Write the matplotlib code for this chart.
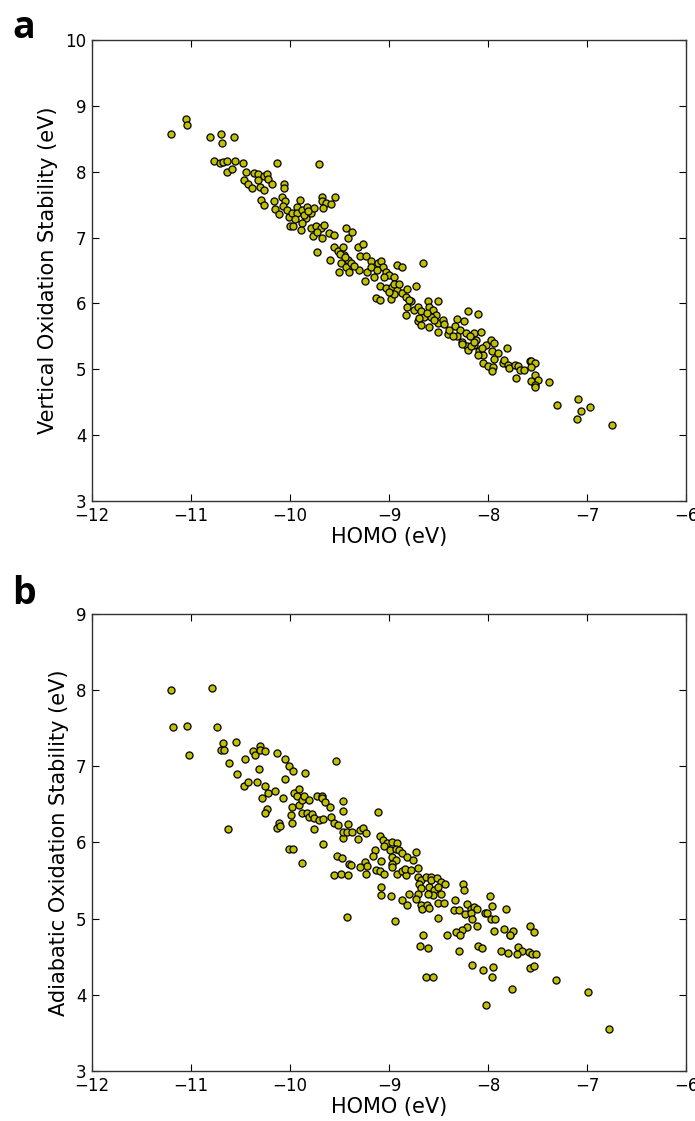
import numpy as np
import matplotlib
matplotlib.use('Agg')
import matplotlib.pyplot as plt

# panel a: HOMO (eV) vs vertical oxidation stability (eV)
homo_a = [-11.20, -11.05, -11.04, -10.81, -10.70, -10.69, -10.57, -10.77, -10.71, -10.68,
          -10.64, -10.64, -10.59, -10.56, -10.48, -10.13, -9.71, -10.45, -10.47, -10.42,
          -10.38, -10.36, -10.32, -10.32, -10.30, -10.26, -10.26, -10.23, -10.22, -10.18,
          -10.06, -10.06, -10.29, -10.26, -10.16, -10.15, -10.11, -10.08, -10.05, -10.07,
          -10.03, -10.01, -9.98, -9.93, -9.90, -9.93, -9.88, -9.83, -9.79, -9.76,
          -9.84, -9.88, -10.00, -9.97, -9.89, -9.79, -9.74, -9.69, -9.66, -9.77,
          -9.73, -9.68, -9.61, -9.56, -9.68, -9.68, -9.64, -9.59, -9.55, -9.67,
          -9.73, -9.60, -9.56, -9.51, -9.44, -9.42, -9.52, -9.47, -9.46, -9.42,
          -9.49, -9.44, -9.41, -9.37, -9.31, -9.26, -9.29, -9.23, -9.18, -9.11,
          -9.08, -9.06, -9.03, -9.00, -8.95, -8.92, -8.87, -8.66, -8.73, -9.30,
          -9.24, -9.15, -9.22, -9.13, -9.09, -8.98, -9.09, -9.03, -8.97, -8.92,
          -8.87, -8.82, -8.83, -8.78, -8.83, -8.82, -8.75, -8.71, -8.68, -8.65,
          -8.61, -8.60, -8.56, -8.51, -8.53, -8.58, -8.71, -8.68, -8.60, -8.51,
          -8.46, -8.45, -8.51, -8.41, -8.31, -8.24, -8.20, -8.10, -8.33, -8.28,
          -8.22, -8.31, -8.26, -8.21, -8.14, -8.12, -8.14, -8.07, -8.09, -8.05,
          -8.02, -7.97, -7.94, -7.96, -7.90, -7.81, -7.94, -8.05, -8.00, -7.95,
          -7.96, -7.85, -7.84, -7.80, -7.79, -7.73, -7.70, -7.68, -7.64, -7.72,
          -7.58, -7.57, -7.53, -7.57, -7.53, -7.50, -7.57, -7.53, -7.53, -7.39,
          -7.31, -7.09, -7.10, -7.06, -6.97, -6.75, -8.26, -8.20, -8.17, -8.14,
          -8.10, -8.06, -9.50, -9.45, -9.39, -9.35, -9.18, -9.12, -9.05, -8.95,
          -8.90, -8.80, -8.70, -8.62, -8.55, -8.40, -8.36, -8.18, -8.95, -9.00,
          -9.95, -9.86, -9.82]
vert_a = [8.57, 8.80, 8.71, 8.52, 8.58, 8.44, 8.52, 8.16, 8.13, 8.15,
          8.17, 7.99, 8.04, 8.16, 8.13, 8.14, 8.12, 7.99, 7.88, 7.81,
          7.75, 7.98, 7.97, 7.88, 7.77, 7.73, 7.94, 7.97, 7.89, 7.81,
          7.81, 7.76, 7.57, 7.50, 7.55, 7.43, 7.36, 7.61, 7.56, 7.48,
          7.42, 7.31, 7.38, 7.47, 7.57, 7.37, 7.42, 7.46, 7.37, 7.45,
          7.29, 7.22, 7.18, 7.17, 7.12, 7.14, 7.17, 7.14, 7.19, 7.02,
          7.08, 6.99, 7.07, 7.04, 7.62, 7.55, 7.53, 7.51, 7.62, 7.45,
          6.78, 6.66, 6.85, 6.47, 7.14, 6.99, 6.79, 6.86, 6.74, 6.66,
          6.61, 6.56, 6.48, 7.09, 6.86, 6.90, 6.72, 6.72, 6.65, 6.61,
          6.65, 6.56, 6.47, 6.43, 6.40, 6.59, 6.56, 6.61, 6.27, 6.50,
          6.34, 6.40, 6.48, 6.08, 6.05, 6.06, 6.27, 6.23, 6.25, 6.21,
          6.16, 6.22, 6.10, 6.03, 5.83, 5.95, 5.90, 5.95, 5.88, 5.80,
          6.03, 5.95, 5.90, 6.03, 5.83, 5.80, 5.73, 5.67, 5.64, 5.71,
          5.75, 5.68, 5.56, 5.54, 5.76, 5.73, 5.88, 5.84, 5.65, 5.60,
          5.55, 5.50, 5.42, 5.35, 5.55, 5.45, 5.37, 5.57, 5.27, 5.22,
          5.37, 5.45, 5.40, 5.27, 5.24, 5.33, 5.16, 5.10, 5.05, 5.03,
          4.97, 5.09, 5.14, 5.07, 5.02, 5.07, 5.05, 4.99, 4.99, 4.87,
          5.13, 5.12, 5.10, 5.03, 4.92, 4.84, 4.82, 4.76, 4.73, 4.80,
          4.46, 4.55, 4.24, 4.37, 4.42, 4.16, 5.39, 5.30, 5.35, 5.42,
          5.22, 5.32, 6.75, 6.70, 6.62, 6.57, 6.55, 6.50, 6.40, 6.30,
          6.30, 6.05, 5.78, 5.85, 5.75, 5.60, 5.50, 5.50, 6.15, 6.18,
          7.28, 7.35, 7.40]

# panel b: HOMO (eV) vs adiabatic oxidation stability (eV)
homo_b = [-11.20, -10.79, -11.18, -11.04, -10.74, -11.02, -10.68, -10.70, -10.67, -10.55,
          -10.62, -10.54, -10.47, -10.43, -10.46, -10.37, -10.35, -10.30, -10.30, -10.25,
          -10.31, -10.33, -10.25, -10.22, -10.15, -10.28, -10.23, -10.25, -10.07, -10.13,
          -10.05, -10.01, -9.97, -9.85, -10.05, -10.11, -10.13, -10.10, -9.98, -9.99,
          -9.98, -9.96, -9.93, -9.91, -9.91, -9.88, -9.86, -9.81, -9.88, -9.83,
          -9.81, -9.78, -9.76, -9.76, -9.71, -9.67, -9.59, -9.56, -9.52, -9.42,
          -9.73, -9.68, -9.68, -9.65, -9.60, -9.47, -9.47, -9.54, -10.63, -10.01,
          -9.97, -9.88, -9.67, -9.53, -9.48, -9.41, -9.56, -9.49, -9.42, -9.47,
          -9.47, -9.43, -9.11, -9.37, -9.29, -9.26, -9.23, -9.31, -9.09, -9.06,
          -9.02, -8.97, -8.92, -9.05, -8.99, -8.93, -8.90, -8.87, -8.82, -8.76,
          -8.73, -8.97, -8.93, -8.97, -9.14, -9.16, -9.08, -9.24, -9.22, -9.29,
          -9.39, -9.13, -9.09, -9.05, -9.23, -8.97, -8.92, -8.87, -8.83, -8.84,
          -8.78, -8.71, -8.71, -8.68, -8.63, -8.58, -8.58, -8.52, -8.48, -8.44,
          -8.70, -8.68, -8.60, -8.55, -8.51, -8.48, -8.56, -8.61, -8.71, -8.73,
          -8.68, -8.67, -8.62, -8.60, -8.51, -8.45, -8.80, -8.87, -8.82, -8.98,
          -9.08, -9.08, -9.43, -8.94, -8.66, -8.69, -8.61, -8.51, -8.42, -8.33,
          -8.34, -8.29, -8.23, -8.21, -8.25, -8.24, -8.17, -8.14, -8.11, -8.17,
          -8.16, -8.11, -8.21, -8.26, -8.32, -8.28, -8.29, -8.10, -8.06, -7.98,
          -7.96, -8.03, -8.01, -7.97, -7.93, -7.94, -7.82, -7.84, -7.78, -7.87,
          -7.80, -7.58, -7.54, -7.75, -7.78, -7.70, -7.66, -7.71, -7.59, -7.56,
          -7.52, -7.58, -7.54, -7.32, -6.99, -6.78, -7.76, -8.02, -7.96, -7.95,
          -8.05, -8.16, -8.63, -8.56]
adiab_b = [8.00, 8.03, 7.51, 7.53, 7.51, 7.15, 7.30, 7.22, 7.22, 7.32,
           7.04, 6.90, 6.74, 6.80, 7.10, 7.20, 7.15, 7.27, 7.21, 7.20,
           6.97, 6.80, 6.74, 6.65, 6.67, 6.58, 6.44, 6.39, 6.59, 7.17,
           7.10, 7.00, 6.94, 6.91, 6.84, 6.26, 6.19, 6.22, 6.47, 6.36,
           6.25, 6.65, 6.61, 6.70, 6.49, 6.56, 6.61, 6.56, 6.39, 6.39,
           6.34, 6.38, 6.32, 6.18, 6.30, 6.31, 6.33, 6.25, 6.23, 6.24,
           6.61, 6.61, 6.58, 6.53, 6.47, 6.54, 6.41, 7.07, 6.18, 5.91,
           5.91, 5.73, 5.98, 5.82, 5.79, 5.72, 5.57, 5.59, 5.57, 6.06,
           6.14, 6.14, 6.40, 6.14, 6.16, 6.19, 6.13, 6.05, 6.08, 6.03,
           5.99, 6.01, 5.99, 5.95, 5.90, 5.92, 5.90, 5.86, 5.81, 5.77,
           5.87, 5.81, 5.77, 5.72, 5.90, 5.82, 5.76, 5.75, 5.69, 5.68,
           5.70, 5.64, 5.62, 5.59, 5.58, 5.68, 5.59, 5.62, 5.57, 5.65,
           5.64, 5.66, 5.55, 5.51, 5.55, 5.55, 5.51, 5.53, 5.48, 5.46,
           5.46, 5.40, 5.42, 5.37, 5.42, 5.33, 5.31, 5.33, 5.33, 5.26,
           5.18, 5.13, 5.18, 5.14, 5.20, 5.20, 5.33, 5.24, 5.18, 5.30,
           5.41, 5.31, 5.02, 4.97, 4.79, 4.64, 4.62, 5.01, 4.79, 5.25,
           5.12, 5.11, 5.06, 5.19, 5.46, 5.38, 5.13, 5.15, 5.13, 5.08,
           5.00, 4.90, 4.89, 4.85, 4.83, 4.79, 4.58, 4.64, 4.62, 5.30,
           5.16, 5.07, 5.07, 4.99, 5.00, 4.84, 5.13, 4.87, 4.79, 4.58,
           4.55, 4.90, 4.82, 4.84, 4.78, 4.63, 4.58, 4.53, 4.56, 4.54,
           4.54, 4.35, 4.38, 4.20, 4.04, 3.55, 4.07, 3.86, 4.23, 4.37,
           4.32, 4.39, 4.23, 4.23]

fig = plt.figure(figsize=(6.95, 11.21), dpi=100)
ax1 = fig.add_axes([0.1324, 0.5531, 0.855, 0.4112])
ax2 = fig.add_axes([0.1324, 0.0446, 0.855, 0.4077])

panels = [(ax1, homo_a, vert_a, 'Vertical Oxidation Stability (eV)', (3, 10)),
          (ax2, homo_b, adiab_b, 'Adiabatic Oxidation Stability (eV)', (3, 9))]

for ax, x, y, ylab, ylim in panels:
    ax.scatter(x, y, s=26, c='#c0c000', edgecolors='k', linewidths=0.9, zorder=3)
    ax.set_xlim(-12, -6)
    ax.set_ylim(*ylim)
    ax.set_xticks(np.arange(-12, -5, 1))
    ax.set_yticks(np.arange(ylim[0], ylim[1] + 1, 1))
    ax.tick_params(direction='in', top=True, right=True, length=5, width=0.8,
                   labelsize=12, pad=4)
    for sp in ax.spines.values():
        sp.set_linewidth(1.0)
        sp.set_color('#333333')
    ax.set_xlabel('HOMO (eV)', fontsize=15, labelpad=2)
    ax.set_ylabel(ylab, fontsize=15, labelpad=5)

fig.text(0.018, 0.966, 'a', fontsize=27, fontweight='bold', family='Open Sans')
fig.text(0.018, 0.461, 'b', fontsize=27, fontweight='bold', family='Open Sans')

fig.savefig('out.png', dpi=100)
